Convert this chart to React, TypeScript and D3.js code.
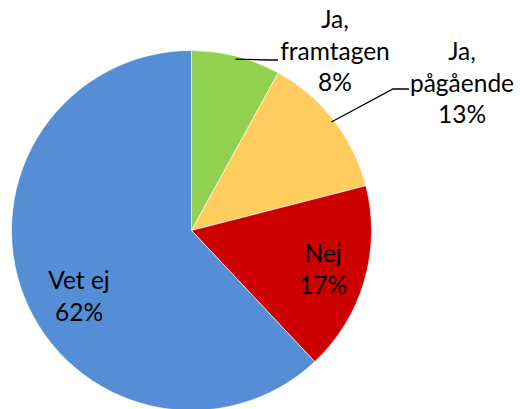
import React from "react";
import * as d3 from "d3";

const categories = ["Ja, framtagen", "Ja, pågående", "Nej", "Vet ej"];
const values = [8, 13, 17, 62];
const colors = ["#92D050", "#FFCC5F", "#CC0000", "#558ED5"];

const W = 520, H = 409;
const cx = 191.5, cy = 230.5, R = 180;

export default function App() {
  const pie = d3.pie<number>().sort(null).value((d) => d)(values);
  const arc = d3.arc<d3.PieArcDatum<number>>().innerRadius(0).outerRadius(R);
  const total = d3.sum(values);
  const pct = (v: number) => `${Math.round((v / total) * 100)}%`;

  const fontSize = 24.5;
  const lh = 31.5;
  const font = "Lato, 'Liberation Sans', sans-serif";

  const outsideLabels = [
    { i: 0, x: 335, y: 28, lines: ["Ja,", "framtagen", pct(values[0])], bend: [268, 60], end: [278, 60] },
    { i: 1, x: 462, y: 60, lines: ["Ja,", "pågående", pct(values[1])], bend: [393, 89], end: [409, 89] },
  ];

  return (
    <svg width={W} height={H} style={{ position: "absolute", left: 0, top: 0 }}>
      <rect width={W} height={H} fill="#fff" />
      <g transform={`translate(${cx},${cy})`}>
        {pie.map((p, i) => (
          <path key={i} d={arc(p) || ""} fill={colors[i]} stroke="#fff" strokeWidth={0.6} />
        ))}
      </g>
      {outsideLabels.map((l, k) => {
        const p = pie[l.i];
        const a = (p.startAngle + p.endAngle) / 2;
        const sx = cx + Math.sin(a) * (R - 3);
        const sy = cy - Math.cos(a) * (R - 3);
        return (
          <g key={k}>
            <polyline
              points={`${sx},${sy} ${l.bend[0]},${l.bend[1]} ${l.end[0]},${l.end[1]}`}
              fill="none"
              stroke="#000"
              strokeWidth={1.3}
            />
            <text x={l.x} y={l.y} textAnchor="middle" fontFamily={font} fontSize={fontSize} fill="#000">
              {l.lines.map((t, j) => (
                <tspan key={j} x={l.x} y={l.y + j * lh}>{t}</tspan>
              ))}
            </text>
          </g>
        );
      })}
      {[
        { i: 2, x: 323, y: 262 },
        { i: 3, x: 79, y: 289 },
      ].map((l, k) => (
        <text key={k} x={l.x} y={l.y} textAnchor="middle" fontFamily={font} fontSize={fontSize} fill="#000">
          <tspan x={l.x} y={l.y}>{categories[l.i]}</tspan>
          <tspan x={l.x} y={l.y + lh}>{pct(values[l.i])}</tspan>
        </text>
      ))}
    </svg>
  );
}
